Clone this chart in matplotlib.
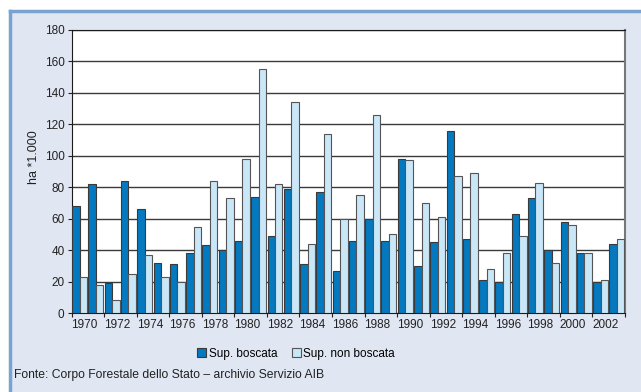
import matplotlib
matplotlib.use("Agg")
import matplotlib.pyplot as plt
from matplotlib.patches import Rectangle
from matplotlib.lines import Line2D
import numpy as np

# -------------------------------------------------
# Data (ha * 1.000)
# -------------------------------------------------

YEARS = list(range(1970, 2004))
BOSCATA = [68, 82, 19, 84, 66, 32, 31, 38, 43, 40,
           46, 74, 49, 79, 31, 77, 27, 46, 60, 46,
           98, 30, 45, 116, 47, 21, 20, 63, 73, 40,
           58, 38, 20, 44]
NON_BOSCATA = [23, 18, 8, 25, 37, 23, 20, 55, 84, 73,
               98, 155, 82, 134, 44, 114, 60, 75, 126, 50,
               97, 70, 61, 87, 89, 28, 38, 49, 83, 32,
               56, 38, 21, 47]
TICK_YEARS = YEARS[::2]

DARK = "#0479BF"
LIGHT = "#C9E7F7"
BG = "#E0E6F2"
BORDER = "#7BA3D0"

plt.rcParams["font.family"] = ["Liberation Sans", "DejaVu Sans"]

# -------------------------------------------------
# Figure
# -------------------------------------------------

fig = plt.figure(figsize=(6.41, 3.92), dpi=100)
fig.patch.set_facecolor("white")

# panel background + border (top and left)
fig.patches.append(Rectangle((10 / 641, 0), 1, 381 / 392, transform=fig.transFigure,
                             facecolor=BG, edgecolor="none", zorder=-10))
fig.lines.append(Line2D([10 / 641, 1], [381 / 392, 381 / 392], transform=fig.transFigure,
                        color=BORDER, linewidth=2.5, zorder=-5))
fig.lines.append(Line2D([10 / 641, 10 / 641], [0, 381 / 392], transform=fig.transFigure,
                        color=BORDER, linewidth=2.5, zorder=-5))

ax = fig.add_axes([71.5 / 641, 1 - 313 / 392, (625 - 71.5) / 641, (313 - 30) / 392])
ax.set_zorder(1)
ax.set_facecolor("white")

x = np.arange(len(YEARS))
w = 0.46
ax.bar(x - w / 2, BOSCATA, width=w, color=DARK, edgecolor="#3a3a3a",
       linewidth=0.8, label="Sup. boscata", zorder=3)
ax.bar(x + w / 2, NON_BOSCATA, width=w, color=LIGHT, edgecolor="#555555",
       linewidth=0.8, label="Sup. non boscata", zorder=3)

ax.set_xlim(-0.5, len(YEARS) - 0.5)
ax.set_ylim(0, 180)
ax.set_yticks(range(0, 181, 20))
ax.yaxis.grid(True, color="#3a3a3a", linewidth=1.0)
ax.set_axisbelow(True)

tick_pos = [YEARS.index(y) - 0.5 for y in TICK_YEARS] + [len(YEARS) - 0.5]
ax.set_xticks(tick_pos)
ax.set_xticklabels([str(y) for y in TICK_YEARS] + [""], ha="left")
ax.tick_params(axis="x", length=3, pad=1, labelsize=8.5, colors="#222222")
ax.tick_params(axis="y", length=3, pad=2, labelsize=8.5, colors="#222222")

for side in ["left", "bottom", "top"]:
    ax.spines[side].set_color("#1a1a1a")
ax.spines["right"].set_color("#777777")
ax.spines["right"].set_linewidth(1.5)

ax.set_ylabel("ha *1.000", fontsize=9, color="#222222")
ax.yaxis.set_label_coords(-0.057, 0.55)

handles, labels = ax.get_legend_handles_labels()
fig.legend(handles, labels, loc="center", bbox_to_anchor=(296 / 641, 1 - 354 / 392),
           ncol=2, frameon=False, fontsize=8.5, handlelength=0.8, handleheight=0.8,
           handletextpad=0.2, columnspacing=1.2)

fig.text(14 / 641, 1 - 375 / 392, "Fonte: Corpo Forestale dello Stato \u2013 archivio Servizio AIB",
         fontsize=8.7, color="#222222", va="center", ha="left")

fig.savefig("out.png", dpi=100, facecolor=fig.get_facecolor())
